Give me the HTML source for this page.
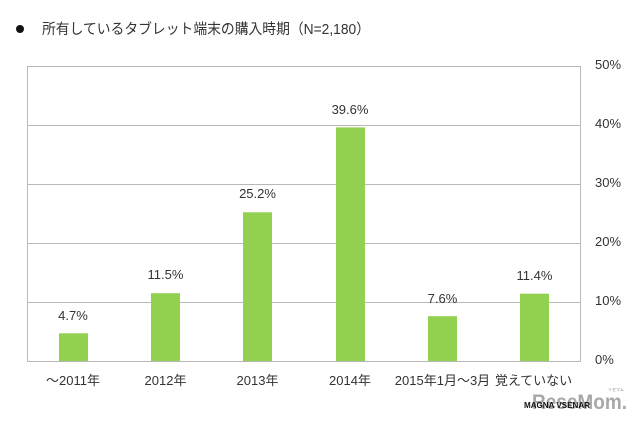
<!DOCTYPE html>
<html><head><meta charset="utf-8"><style>
html,body{margin:0;padding:0;background:#fff;}
svg{display:block;}
text{font-family:"Liberation Sans","Noto Sans CJK JP",sans-serif;fill:#333;}
</style></head><body>
<svg width="640" height="425" viewBox="0 0 640 425" xmlns="http://www.w3.org/2000/svg">
<rect width="640" height="425" fill="#fff"/>
<circle cx="20" cy="29" r="4" fill="#111"/>
<text x="42" y="34" font-size="14.5" textLength="328" lengthAdjust="spacingAndGlyphs">所有しているタブレット端末の購入時期（N=2,180）</text>
<g stroke="#b8b8b8" stroke-width="1" fill="none">
<line x1="27" y1="66.5" x2="581" y2="66.5"/>
<line x1="27" y1="125.5" x2="581" y2="125.5"/>
<line x1="27" y1="184.5" x2="581" y2="184.5"/>
<line x1="27" y1="243.5" x2="581" y2="243.5"/>
<line x1="27" y1="302.5" x2="581" y2="302.5"/>
<line x1="27" y1="361.5" x2="581" y2="361.5"/>
<line x1="27.5" y1="66" x2="27.5" y2="362"/>
<line x1="580.5" y1="66" x2="580.5" y2="362"/>
</g>
<g fill="#92d050">
<rect x="59" y="333.3" width="29" height="27.7"/>
<rect x="151" y="293.2" width="29" height="67.8"/>
<rect x="243" y="212.3" width="29" height="148.7"/>
<rect x="336" y="127.4" width="29" height="233.6"/>
<rect x="428" y="316.2" width="29" height="44.8"/>
<rect x="520" y="293.7" width="29" height="67.3"/>
</g>
<g font-size="13" text-anchor="middle">
<text x="73" y="320">4.7%</text>
<text x="165.5" y="279">11.5%</text>
<text x="257.5" y="198">25.2%</text>
<text x="350" y="114">39.6%</text>
<text x="442.5" y="303">7.6%</text>
<text x="534.5" y="280">11.4%</text>
</g>
<g font-size="13" text-anchor="middle">
<text x="73" y="385">～2011年</text>
<text x="165.5" y="385">2012年</text>
<text x="257.5" y="385">2013年</text>
<text x="350" y="385">2014年</text>
<text x="442.5" y="385">2015年1月～3月</text>
<text x="533.5" y="385">覚えていない</text>
</g>
<g font-size="13">
<text x="595" y="69">50%</text>
<text x="595" y="128">40%</text>
<text x="595" y="187">30%</text>
<text x="595" y="246">20%</text>
<text x="595" y="305">10%</text>
<text x="595" y="364">0%</text>
</g>
<text x="532" y="409" font-size="21" font-weight="bold" textLength="95" lengthAdjust="spacingAndGlyphs" style="fill:#9a9a9a;opacity:0.85">ReseMom.</text>
<text x="524" y="408" font-size="8.5" font-weight="bold" textLength="66" lengthAdjust="spacingAndGlyphs" style="fill:#111">MAGNA VSENAR</text>
<text x="608" y="391" font-size="4" style="fill:#888">リセマム</text>
</svg>
</body></html>
